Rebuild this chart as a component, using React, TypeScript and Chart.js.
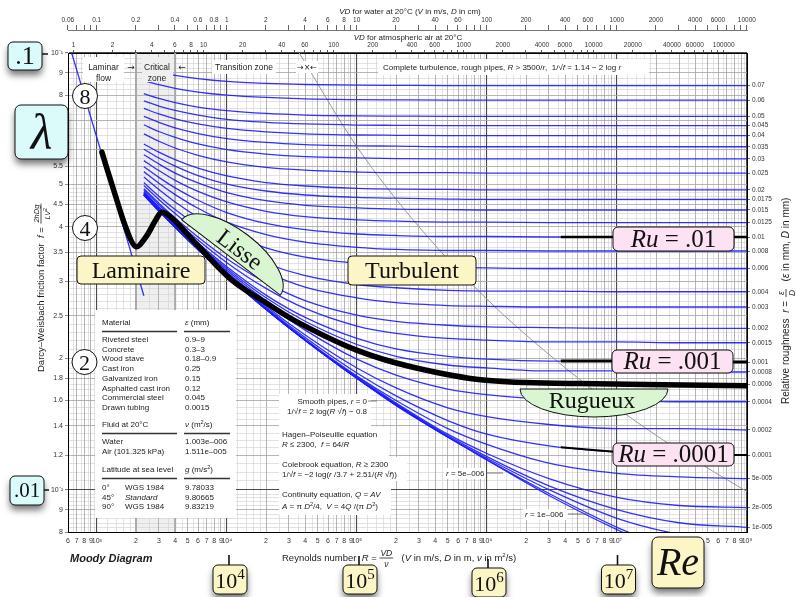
import React, { useEffect, useRef } from 'react';
import { Chart, registerables } from 'chart.js';

Chart.register(...registerables);

// ---------------- DATA ----------------
const RE_MIN = 600;
const RE_MAX = 1e8;
const F_MIN = 0.008;
const F_MAX = 0.1;

// Reynolds numbers at which the roughness curves were read
const RE = [2300, 3000, 4000, 6000, 1e4, 2e4, 4e4, 1e5, 2e5, 5e5, 1e6, 3e6, 1e7, 3e7, 1e8];

// friction factor per relative roughness
const F_070 = [0.0921, 0.0903, 0.0889, 0.0874, 0.0861, 0.0852, 0.0847, 0.0844, 0.0843, 0.0842, 0.0842, 0.0842, 0.0842, 0.0842, 0.0842];
const F_060 = [0.0864, 0.0846, 0.0830, 0.0814, 0.0801, 0.0791, 0.0785, 0.0782, 0.0781, 0.0780, 0.0780, 0.0780, 0.0780, 0.0780, 0.0780];
const F_050 = [0.0807, 0.0787, 0.0770, 0.0752, 0.0738, 0.0727, 0.0721, 0.0718, 0.0717, 0.0716, 0.0716, 0.0716, 0.0716, 0.0716, 0.0716];
const F_045 = [0.0777, 0.0756, 0.0739, 0.0721, 0.0705, 0.0694, 0.0688, 0.0684, 0.0683, 0.0682, 0.0682, 0.0682, 0.0682, 0.0682, 0.0682];
const F_040 = [0.0747, 0.0725, 0.0707, 0.0688, 0.0672, 0.0660, 0.0653, 0.0649, 0.0648, 0.0647, 0.0647, 0.0647, 0.0647, 0.0647, 0.0647];
const F_035 = [0.0716, 0.0694, 0.0674, 0.0654, 0.0637, 0.0624, 0.0617, 0.0613, 0.0612, 0.0610, 0.0610, 0.0610, 0.0610, 0.0610, 0.0610];
const F_030 = [0.0685, 0.0661, 0.0641, 0.0619, 0.0601, 0.0587, 0.0579, 0.0575, 0.0573, 0.0572, 0.0572, 0.0572, 0.0572, 0.0572, 0.0572];
const F_025 = [0.0653, 0.0628, 0.0606, 0.0583, 0.0563, 0.0547, 0.0539, 0.0534, 0.0532, 0.0532, 0.0531, 0.0531, 0.0531, 0.0531, 0.0531];
const F_020 = [0.0619, 0.0593, 0.0570, 0.0545, 0.0523, 0.0505, 0.0496, 0.0490, 0.0488, 0.0487, 0.0486, 0.0486, 0.0486, 0.0486, 0.0486];
const F_0175 = [0.0602, 0.0575, 0.0551, 0.0524, 0.0501, 0.0483, 0.0473, 0.0467, 0.0465, 0.0463, 0.0462, 0.0462, 0.0462, 0.0462, 0.0462];
const F_015 = [0.0585, 0.0557, 0.0531, 0.0504, 0.0479, 0.0459, 0.0448, 0.0442, 0.0439, 0.0438, 0.0437, 0.0437, 0.0437, 0.0437, 0.0437];
const F_0125 = [0.0567, 0.0538, 0.0511, 0.0482, 0.0456, 0.0434, 0.0422, 0.0415, 0.0412, 0.0410, 0.0410, 0.0409, 0.0409, 0.0409, 0.0409];
const F_010 = [0.0549, 0.0519, 0.0491, 0.0460, 0.0431, 0.0407, 0.0394, 0.0385, 0.0382, 0.0380, 0.0380, 0.0379, 0.0379, 0.0379, 0.0379];
const F_008 = [0.0535, 0.0503, 0.0474, 0.0441, 0.0410, 0.0384, 0.0369, 0.0359, 0.0355, 0.0353, 0.0353, 0.0352, 0.0352, 0.0352, 0.0352];
const F_006 = [0.0520, 0.0487, 0.0456, 0.0421, 0.0388, 0.0358, 0.0341, 0.0330, 0.0325, 0.0323, 0.0322, 0.0321, 0.0321, 0.0321, 0.0321];
const F_004 = [0.0505, 0.0470, 0.0438, 0.0401, 0.0364, 0.0330, 0.0309, 0.0295, 0.0290, 0.0286, 0.0285, 0.0285, 0.0284, 0.0284, 0.0284];
const F_003 = [0.0497, 0.0462, 0.0429, 0.0390, 0.0351, 0.0315, 0.0291, 0.0275, 0.0268, 0.0264, 0.0263, 0.0262, 0.0262, 0.0262, 0.0262];
const F_002 = [0.0489, 0.0453, 0.0419, 0.0379, 0.0338, 0.0298, 0.0271, 0.0251, 0.0243, 0.0238, 0.0236, 0.0235, 0.0234, 0.0234, 0.0234];
const F_0015 = [0.0485, 0.0449, 0.0414, 0.0373, 0.0331, 0.0289, 0.0260, 0.0237, 0.0228, 0.0222, 0.0220, 0.0218, 0.0218, 0.0217, 0.0217];
const F_001 = [0.0481, 0.0444, 0.0409, 0.0367, 0.0324, 0.0279, 0.0248, 0.0222, 0.0210, 0.0202, 0.0199, 0.0197, 0.0197, 0.0196, 0.0196];
const F_0008 = [0.0479, 0.0443, 0.0407, 0.0365, 0.0321, 0.0275, 0.0243, 0.0215, 0.0202, 0.0193, 0.0190, 0.0187, 0.0187, 0.0186, 0.0186];
const F_0006 = [0.0478, 0.0441, 0.0405, 0.0362, 0.0318, 0.0271, 0.0238, 0.0207, 0.0193, 0.0183, 0.0178, 0.0176, 0.0175, 0.0174, 0.0174];
const F_0004 = [0.0476, 0.0439, 0.0403, 0.0360, 0.0315, 0.0267, 0.0232, 0.0199, 0.0183, 0.0170, 0.0165, 0.0161, 0.0160, 0.0159, 0.0159];
const F_0002 = [0.0475, 0.0438, 0.0401, 0.0358, 0.0312, 0.0263, 0.0226, 0.0190, 0.0171, 0.0154, 0.0147, 0.0141, 0.0138, 0.0138, 0.0137];
const F_0001 = [0.0474, 0.0437, 0.0400, 0.0356, 0.0310, 0.0261, 0.0223, 0.0185, 0.0164, 0.0144, 0.0134, 0.0126, 0.0122, 0.0120, 0.0120];
const F_5E5 = [0.0473, 0.0436, 0.0399, 0.0356, 0.0310, 0.0260, 0.0221, 0.0182, 0.0160, 0.0138, 0.0127, 0.0115, 0.0109, 0.0107, 0.0106];
const F_2E5 = [0.0473, 0.0435, 0.0399, 0.0355, 0.0309, 0.0259, 0.0220, 0.0181, 0.0158, 0.0134, 0.0121, 0.0106, 0.0096, 0.0092, 0.0091];
const F_1E5 = [0.0473, 0.0435, 0.0399, 0.0355, 0.0309, 0.0259, 0.0220, 0.0180, 0.0157, 0.0133, 0.0119, 0.0102, 0.0090, 0.0084, 0.0082];
const F_5E6 = [0.0473, 0.0435, 0.0399, 0.0355, 0.0309, 0.0259, 0.0220, 0.0180, 0.0157, 0.0132, 0.0118, 0.0100, 0.0086, 0.0079, 0.0075];
const F_1E6 = [0.0473, 0.0435, 0.0399, 0.0355, 0.0309, 0.0259, 0.0220, 0.0180, 0.0156, 0.0132, 0.0117, 0.0098, 0.0082, 0.0072, 0.0063];
const F_SMOOTH = [0.0473, 0.0435, 0.0399, 0.0355, 0.0309, 0.0259, 0.0220, 0.0180, 0.0156, 0.0132, 0.0117, 0.0097, 0.0081, 0.0070, 0.0059];

const ROUGHNESS_LABELS = ['0.07', '0.06', '0.05', '0.045', '0.04', '0.035', '0.03', '0.025', '0.02', '0.0175', '0.015', '0.0125', '0.01', '0.008', '0.006', '0.004', '0.003', '0.002', '0.0015', '0.001', '0.0008', '0.0006', '0.0004', '0.0002', '0.0001', '5e-005', '2e-005', '1e-005'];
const ROUGH_SERIES = [F_070, F_060, F_050, F_045, F_040, F_035, F_030, F_025, F_020, F_0175, F_015, F_0125, F_010, F_008, F_006, F_004, F_003, F_002, F_0015, F_001, F_0008, F_0006, F_0004, F_0002, F_0001, F_5E5, F_2E5, F_1E5];
const EXTRA_SERIES = [F_5E6, F_1E6, F_SMOOTH];

// laminar flow line
const LAMINAR_RE = [600, 2300];
const LAMINAR_F = [0.1067, 0.0278];

// boundary of complete turbulence (grey diagonal)
const BOUNDARY_RE = [3.6e4, 1e5, 3e5, 1e6, 3e6, 1e7, 3e7, 1e8];
const BOUNDARY_F = [0.1, 0.061, 0.04, 0.0273, 0.0204, 0.0154, 0.0123, 0.0099];

// thick hand-drawn black path
const PATH_RE = [1093, 1400, 1701, 1995, 2382, 2843, 3162, 3776, 6000, 10926, 19953, 35800, 98240, 265000, 982000, 5.1e6, 1e8];
const PATH_F = [0.0593, 0.0468, 0.0393, 0.036, 0.0379, 0.0415, 0.0432, 0.0419, 0.0362, 0.0302, 0.0268, 0.0241, 0.0209, 0.0191, 0.0178, 0.0175, 0.0173];

// highlighted "Ru" segments
const RU_RE = [3.7e6, 1e7, 3e7, 1e8];
const RU_01_F = [0.0379, 0.0379, 0.0379, 0.0379];
const RU_001_F = [0.0197, 0.0197, 0.0196, 0.0196];
const RU_0001_F = [0.0125, 0.0122, 0.012, 0.012];

const CRITICAL_ZONE = [2000, 4000];

const Y_TICKS = [0.1, 0.09, 0.08, 0.07, 0.06, 0.055, 0.05, 0.045, 0.04, 0.035, 0.03, 0.025, 0.02, 0.018, 0.016, 0.014, 0.012, 0.01, 0.009, 0.008];

// secondary top axes: VD per unit Reynolds number
const WATER_FACTOR = 1.003e-4;
const AIR_FACTOR = 1.511e-3;
const WATER_LABELS = [0.06, 0.1, 0.2, 0.4, 0.6, 0.8, 1, 2, 4, 6, 8, 10, 20, 40, 60, 100, 200, 400, 600, 1000, 2000, 4000, 6000, 10000];
const AIR_LABELS = [1, 2, 4, 6, 8, 10, 20, 40, 60, 100, 200, 400, 600, 1000, 2000, 4000, 6000, 10000, 20000, 40000, 60000, 100000];

const X_MINOR_MANTISSA = [1.2, 1.4, 1.6, 1.8, 2.5, 3.5, 4.5, 5.5, 6.5, 7.5, 8.5, 9.5];

// ---------------- HELPERS ----------------
const SANS = '"Liberation Sans", Arial, Helvetica, sans-serif';
const SERIF = '"Liberation Serif", "Times New Roman", serif';
const fs = (size: number, style = '') => `${style} ${size}px ${SANS}`.trim();
const fserif = (size: number, style = '') => `${style} ${size}px ${SERIF}`.trim();

const CYAN = '#dbfafa';
const YELLOW = '#fcf6c6';
const PINK = '#fde2f3';
const GREEN = '#d9f5d2';
const BLUE = 'rgba(28,28,255,0.9)';
const TXT = '#1c1c1c';

const SUP: Record<string, string> = { '0': '⁰', '1': '¹', '2': '²', '3': '³', '4': '⁴', '5': '⁵', '6': '⁶', '7': '⁷', '8': '⁸', '9': '⁹', '-': '⁻' };
const sup = (s: string) => s.split('').map((c) => SUP[c] ?? c).join('');

function mantissaLabel(v: number): string {
  const e = Math.floor(Math.log10(v) + 1e-9);
  const m = v / Math.pow(10, e);
  if (Math.abs(m - 1) < 1e-6) return '10' + sup(String(e));
  return String(Math.round(m * 10) / 10);
}
function isDecade(v: number) {
  const l = Math.log10(v);
  return Math.abs(l - Math.round(l)) < 1e-9;
}
function logTicks(min: number, max: number): number[] {
  const out: number[] = [];
  for (let e = Math.floor(Math.log10(min)) - 1; e <= Math.ceil(Math.log10(max)); e++) {
    for (let m = 1; m <= 9; m++) {
      const v = Number((m * Math.pow(10, e)).toPrecision(10));
      if (v >= min * (1 - 1e-9) && v <= max * (1 + 1e-9)) out.push(v);
    }
  }
  return out;
}
function fmtNum(v: number) {
  return String(Number(v.toPrecision(6)));
}
const near = (a: number, b: number) => Math.abs(a - b) / b < 1e-6;

const Y_MINOR: number[] = (() => {
  const out: number[] = [];
  for (let k = 82; k <= 98; k += 2) if (k !== 90) out.push(k / 10000);
  for (let k = 105; k <= 195; k += 5) if (k % 20 !== 0) out.push(k / 10000);
  for (let k = 21; k <= 49; k++) if (k % 5 !== 0) out.push(k / 1000);
  for (let k = 50; k <= 100; k += 2.5) if (![50, 55, 60, 70, 80, 90, 100].includes(k)) out.push(k / 1000);
  return out;
})();

type Run = { t: string; f: string; dy?: number };
function runsWidth(ctx: CanvasRenderingContext2D, runs: Run[]) {
  let w = 0;
  for (const r of runs) {
    ctx.font = r.f;
    w += ctx.measureText(r.t).width;
  }
  return w;
}
function drawRuns(ctx: CanvasRenderingContext2D, x: number, y: number, runs: Run[], align: 'left' | 'center' | 'right' = 'left', color = TXT) {
  const w = runsWidth(ctx, runs);
  let cx = align === 'center' ? x - w / 2 : align === 'right' ? x - w : x;
  ctx.fillStyle = color;
  ctx.textAlign = 'left';
  ctx.textBaseline = 'alphabetic';
  for (const r of runs) {
    ctx.font = r.f;
    ctx.fillText(r.t, cx, y + (r.dy || 0));
    cx += ctx.measureText(r.t).width;
  }
  return w;
}
function drawFrac(ctx: CanvasRenderingContext2D, x: number, y: number, num: Run[], den: Run[], color = TXT) {
  const w = Math.max(runsWidth(ctx, num), runsWidth(ctx, den)) + 2;
  drawRuns(ctx, x + w / 2, y - 5, num, 'center', color);
  drawRuns(ctx, x + w / 2, y + 5.5, den, 'center', color);
  ctx.strokeStyle = color;
  ctx.lineWidth = 0.8;
  ctx.beginPath();
  ctx.moveTo(x, y - 3);
  ctx.lineTo(x + w, y - 3);
  ctx.stroke();
  return w;
}
function rrPath(ctx: CanvasRenderingContext2D, x: number, y: number, w: number, h: number, r: number) {
  ctx.beginPath();
  ctx.moveTo(x + r, y);
  ctx.arcTo(x + w, y, x + w, y + h, r);
  ctx.arcTo(x + w, y + h, x, y + h, r);
  ctx.arcTo(x, y + h, x, y, r);
  ctx.arcTo(x, y, x + w, y, r);
  ctx.closePath();
}
function box(ctx: CanvasRenderingContext2D, x: number, y: number, w: number, h: number, fill: string, r = 4, shadow = false) {
  ctx.save();
  rrPath(ctx, x, y, w, h, r);
  if (shadow) {
    ctx.shadowColor = 'rgba(0,0,0,0.55)';
    ctx.shadowBlur = 7;
    ctx.shadowOffsetY = 5;
  }
  ctx.fillStyle = fill;
  ctx.fill();
  ctx.restore();
  ctx.save();
  rrPath(ctx, x, y, w, h, r);
  ctx.strokeStyle = '#111';
  ctx.lineWidth = 1;
  ctx.stroke();
  ctx.restore();
}
function rect(ctx: CanvasRenderingContext2D, x: number, y: number, w: number, h: number, fill = '#fff') {
  ctx.fillStyle = fill;
  ctx.fillRect(x, y, w, h);
}
function line(ctx: CanvasRenderingContext2D, x1: number, y1: number, x2: number, y2: number, w = 1, c = '#111') {
  ctx.strokeStyle = c;
  ctx.lineWidth = w;
  ctx.beginPath();
  ctx.moveTo(x1, y1);
  ctx.lineTo(x2, y2);
  ctx.stroke();
}
function circleLabel(ctx: CanvasRenderingContext2D, cx: number, cy: number, r: number, t: string) {
  ctx.beginPath();
  ctx.arc(cx, cy, r, 0, Math.PI * 2);
  ctx.fillStyle = '#fff';
  ctx.fill();
  ctx.strokeStyle = '#111';
  ctx.lineWidth = 1;
  ctx.stroke();
  drawRuns(ctx, cx, cy + 7.5, [{ t, f: fserif(22) }], 'center', '#111');
}

// ---------------- PLUGINS ----------------
const backgroundPlugin = {
  id: 'moodyBackground',
  beforeDraw(chart: any) {
    const { ctx, chartArea: a } = chart;
    const X = chart.scales.x;
    const Y = chart.scales.y;
    ctx.save();
    rect(ctx, 0, 0, chart.width, chart.height, '#fff');
    const c1 = X.getPixelForValue(CRITICAL_ZONE[0]);
    const c2 = X.getPixelForValue(CRITICAL_ZONE[1]);
    rect(ctx, c1, a.top, c2 - c1, a.bottom - a.top, '#efefef');
    ctx.strokeStyle = '#d6d6d6';
    ctx.lineWidth = 0.7;
    ctx.beginPath();
    for (let e = 2; e < 8; e++) {
      for (const m of X_MINOR_MANTISSA) {
        const v = m * Math.pow(10, e);
        if (v < RE_MIN || v > RE_MAX) continue;
        const px = Math.round(X.getPixelForValue(v)) + 0.5;
        ctx.moveTo(px, a.top);
        ctx.lineTo(px, a.bottom);
      }
    }
    for (const v of Y_MINOR) {
      const py = Math.round(Y.getPixelForValue(v)) + 0.5;
      ctx.moveTo(a.left, py);
      ctx.lineTo(a.right, py);
    }
    ctx.stroke();
    ctx.restore();
  },
  beforeDatasetsDraw(chart: any) {
    const { ctx, chartArea: a } = chart;
    const X = chart.scales.x;
    ctx.save();
    for (const v of CRITICAL_ZONE) {
      const px = X.getPixelForValue(v);
      line(ctx, px, a.top, px, a.bottom, 2, '#a9a9a9');
    }
    ctx.restore();
  },
};

const annotationPlugin = {
  id: 'moodyAnnotations',
  afterDraw(chart: any) {
    const ctx: CanvasRenderingContext2D = chart.ctx;
    ctx.save();
    const F8 = fs(8);
    const I8 = fs(8, 'italic');

    // --- zone header labels ---
    rect(ctx, 83, 57, 41, 25);
    drawRuns(ctx, 103.5, 69.5, [{ t: 'Laminar', f: fs(8.5) }], 'center');
    drawRuns(ctx, 103.5, 80.5, [{ t: 'flow', f: fs(8.5) }], 'center');
    rect(ctx, 142, 57, 31, 25, '#efefef');
    drawRuns(ctx, 157, 69.5, [{ t: 'Critical', f: fs(8.5) }], 'center');
    drawRuns(ctx, 157, 80.5, [{ t: 'zone', f: fs(8.5) }], 'center');
    drawRuns(ctx, 131, 70, [{ t: '→', f: `9px "DejaVu Sans", sans-serif` }], 'center');
    drawRuns(ctx, 182, 70, [{ t: '←', f: `9px "DejaVu Sans", sans-serif` }], 'center');
    rect(ctx, 212, 60, 64, 14);
    drawRuns(ctx, 244, 70, [{ t: 'Transition zone', f: fs(8.5) }], 'center');
    rect(ctx, 296, 61, 22, 12);
    drawRuns(ctx, 307, 70, [{ t: '→×←', f: `8px "DejaVu Sans", sans-serif` }], 'center');
    rect(ctx, 378, 59, 271, 16);
    drawRuns(ctx, 383, 70, [
      { t: 'Complete turbulence, rough pipes, ', f: F8 },
      { t: 'R', f: I8 },
      { t: ' > 3500/', f: F8 },
      { t: 'r', f: I8 },
      { t: ',  1/√', f: F8 },
      { t: 'f', f: I8 },
      { t: ' = 1.14 − 2 log ', f: F8 },
      { t: 'r', f: I8 },
    ]);

    // --- material table ---
    rect(ctx, 95, 310, 141, 208);
    const c1 = 102;
    const c2 = 185;
    const rowsA: [string, string][] = [
      ['Riveted steel', '0.9–9'],
      ['Concrete', '0.3–3'],
      ['Wood stave', '0.18–0.9'],
      ['Cast iron', '0.25'],
      ['Galvanized iron', '0.15'],
      ['Asphalted cast iron', '0.12'],
      ['Commercial steel', '0.045'],
      ['Drawn tubing', '0.0015'],
    ];
    drawRuns(ctx, c1, 325, [{ t: 'Material', f: F8 }]);
    drawRuns(ctx, c2, 325, [{ t: 'ε', f: I8 }, { t: ' (mm)', f: F8 }]);
    line(ctx, c1, 331.5, 177, 331.5, 1.3, '#333');
    line(ctx, c2 - 1, 331.5, 230, 331.5, 1.3, '#333');
    rowsA.forEach((r, i) => {
      const y = 342 + i * 9.7;
      drawRuns(ctx, c1, y, [{ t: r[0], f: F8 }]);
      drawRuns(ctx, c2, y, [{ t: r[1], f: F8 }]);
    });
    drawRuns(ctx, c1, 427, [{ t: 'Fluid at 20°C', f: F8 }]);
    drawRuns(ctx, c2, 427, [{ t: 'ν', f: I8 }, { t: ' (m', f: F8 }, { t: '2', f: fs(5.5), dy: -3 }, { t: '/s)', f: F8 }]);
    line(ctx, c1, 433.5, 177, 433.5, 1.3, '#333');
    line(ctx, c2 - 1, 433.5, 230, 433.5, 1.3, '#333');
    drawRuns(ctx, c1, 444, [{ t: 'Water', f: F8 }]);
    drawRuns(ctx, c2, 444, [{ t: '1.003e–006', f: F8 }]);
    drawRuns(ctx, c1, 454, [{ t: 'Air (101.325 kPa)', f: F8 }]);
    drawRuns(ctx, c2, 454, [{ t: '1.511e–005', f: F8 }]);
    drawRuns(ctx, c1, 472, [{ t: 'Latitude at sea level', f: F8 }]);
    drawRuns(ctx, c2, 472, [{ t: 'g', f: I8 }, { t: ' (m/s', f: F8 }, { t: '2', f: fs(5.5), dy: -3 }, { t: ')', f: F8 }]);
    line(ctx, c1, 478.5, 177, 478.5, 1.3, '#333');
    line(ctx, c2 - 1, 478.5, 230, 478.5, 1.3, '#333');
    const rowsG: [string, string, string, boolean][] = [
      ['0°', 'WGS 1984', '9.78033', false],
      ['45°', 'Standard', '9.80665', true],
      ['90°', 'WGS 1984', '9.83219', false],
    ];
    rowsG.forEach((r, i) => {
      const y = 490 + i * 9.7;
      drawRuns(ctx, c1, y, [{ t: r[0], f: F8 }]);
      drawRuns(ctx, 125, y, [{ t: r[1], f: r[3] ? I8 : F8 }]);
      drawRuns(ctx, c2, y, [{ t: r[2], f: F8 }]);
    });

    // --- equations ---
    rect(ctx, 279, 394, 92, 33);
    rect(ctx, 279, 427, 110, 30);
    rect(ctx, 279, 457, 128, 24);
    rect(ctx, 279, 481, 112, 34);
    drawRuns(ctx, 367, 404, [{ t: 'Smooth pipes, ', f: F8 }, { t: 'r', f: I8 }, { t: ' = 0', f: F8 }], 'right');
    drawRuns(ctx, 367, 414, [{ t: '1/√', f: F8 }, { t: 'f', f: I8 }, { t: ' = 2 log(', f: F8 }, { t: 'R', f: I8 }, { t: ' √', f: F8 }, { t: 'f', f: I8 }, { t: ') − 0.8', f: F8 }], 'right');
    line(ctx, 368, 401, 377, 401, 0.8, '#666');
    drawRuns(ctx, 282, 437, [{ t: 'Hagen–Poiseuille equation', f: F8 }]);
    drawRuns(ctx, 282, 447, [{ t: 'R', f: I8 }, { t: ' ≤ 2300,  ', f: F8 }, { t: 'f', f: I8 }, { t: ' = 64/', f: F8 }, { t: 'R', f: I8 }]);
    drawRuns(ctx, 282, 467, [{ t: 'Colebrook equation, ', f: F8 }, { t: 'R', f: I8 }, { t: ' ≥ 2300', f: F8 }]);
    drawRuns(ctx, 282, 477, [{ t: '1/√', f: F8 }, { t: 'f', f: I8 }, { t: ' = −2 log(', f: F8 }, { t: 'r', f: I8 }, { t: ' /3.7 + 2.51/(', f: F8 }, { t: 'R', f: I8 }, { t: ' √', f: F8 }, { t: 'f', f: I8 }, { t: '))', f: F8 }]);
    drawRuns(ctx, 282, 497, [{ t: 'Continuity equation, ', f: F8 }, { t: 'Q', f: I8 }, { t: ' = ', f: F8 }, { t: 'AV', f: I8 }]);
    drawRuns(ctx, 282, 509, [{ t: 'A', f: I8 }, { t: ' = π ', f: F8 }, { t: 'D', f: I8 }, { t: '2', f: fs(5.5), dy: -3 }, { t: '/4,  ', f: F8 }, { t: 'V', f: I8 }, { t: ' = 4', f: F8 }, { t: 'Q', f: I8 }, { t: ' /(π ', f: F8 }, { t: 'D', f: I8 }, { t: '2', f: fs(5.5), dy: -3 }, { t: ')', f: F8 }]);

    // --- curve labels ---
    rect(ctx, 444, 468, 42, 11);
    drawRuns(ctx, 446, 476, [{ t: 'r', f: I8 }, { t: ' = 5e–006', f: F8 }]);
    line(ctx, 487, 473, 503, 473, 0.8, '#555');
    rect(ctx, 523, 509, 44, 11);
    drawRuns(ctx, 525, 517, [{ t: 'r', f: I8 }, { t: ' = 1e–006', f: F8 }]);
    line(ctx, 568, 514, 588, 514, 0.8, '#555');

    // --- titles ---
    drawRuns(ctx, 70, 562, [{ t: 'Moody Diagram', f: fs(11, 'italic bold') }]);
    // bottom axis title
    const FB = fs(9.5);
    const IB = fs(9.5, 'italic');
    let wx = drawRuns(ctx, 282, 561, [{ t: 'Reynolds number  ', f: FB }, { t: 'R', f: IB }, { t: ' = ', f: FB }]);
    wx += drawFrac(ctx, 282 + wx, 561, [{ t: 'VD', f: fs(8.5, 'italic') }], [{ t: 'ν', f: fs(8.5, 'italic') }]);
    drawRuns(ctx, 282 + wx + 3, 561, [
      { t: '  (', f: FB },
      { t: 'V', f: IB },
      { t: ' in m/s, ', f: FB },
      { t: 'D', f: IB },
      { t: ' in m, ', f: FB },
      { t: 'ν', f: IB },
      { t: ' in m', f: FB },
      { t: '2', f: fs(6), dy: -4 },
      { t: '/s)', f: FB },
    ]);
    // top titles
    drawRuns(ctx, 410, 14, [
      { t: 'VD', f: I8 },
      { t: ' for water at 20°C (', f: F8 },
      { t: 'V', f: I8 },
      { t: ' in m/s, ', f: F8 },
      { t: 'D', f: I8 },
      { t: ' in cm)', f: F8 },
    ], 'center');
    drawRuns(ctx, 408, 40, [{ t: 'VD', f: I8 }, { t: ' for atmospheric air at 20°C', f: F8 }], 'center');
    // left title
    ctx.save();
    ctx.translate(44, 372);
    ctx.rotate(-Math.PI / 2);
    const FL = fs(9.5);
    let wl = drawRuns(ctx, 0, 0, [{ t: 'Darcy–Weisbach friction factor  ', f: FL }, { t: 'f', f: fs(9.5, 'italic') }, { t: ' = ', f: FL }]);
    drawFrac(ctx, wl + 1, 0, [{ t: '2hDg', f: fs(7.5, 'italic') }], [{ t: 'LV', f: fs(7.5, 'italic') }, { t: '2', f: fs(5), dy: -3 }]);
    ctx.restore();
    // right title
    ctx.save();
    ctx.translate(789, 404);
    ctx.rotate(-Math.PI / 2);
    const FR = fs(10);
    const IR = fs(10, 'italic');
    let wr = drawRuns(ctx, 0, 0, [{ t: 'Relative roughness  ', f: FR }, { t: 'r', f: IR }, { t: ' = ', f: FR }]);
    wr += drawFrac(ctx, wr + 1, 0, [{ t: 'ε', f: fs(8.5, 'italic') }], [{ t: 'D', f: fs(8.5, 'italic') }]);
    drawRuns(ctx, wr + 3, 0, [{ t: '  (', f: FR }, { t: 'ε', f: IR }, { t: ' in mm, ', f: FR }, { t: 'D', f: IR }, { t: ' in mm)', f: FR }]);
    ctx.restore();

    // --- coloured annotations ---
    box(ctx, 8, 42, 34, 28, CYAN, 5, true);
    drawRuns(ctx, 25, 64, [{ t: '.1', f: fserif(26) }], 'center', '#111');
    line(ctx, 42, 54, 48, 54, 1.5);
    box(ctx, 15, 105, 53, 54, CYAN, 6, true);
    drawRuns(ctx, 41.5, 149, [{ t: 'λ', f: fserif(50, 'italic') }], 'center', '#111');
    box(ctx, 10, 476, 34, 29, CYAN, 5, true);
    drawRuns(ctx, 27, 497, [{ t: '.01', f: fserif(21) }], 'center', '#111');
    line(ctx, 44, 490, 49, 490, 1.5);

    circleLabel(ctx, 85, 96, 12.5, '8');
    circleLabel(ctx, 85, 228, 12.5, '4');
    circleLabel(ctx, 84.5, 362, 12.5, '2');

    box(ctx, 77, 256, 128, 28, YELLOW, 4);
    drawRuns(ctx, 141, 278, [{ t: 'Laminaire', f: fserif(24) }], 'center', '#111');
    box(ctx, 348, 256, 128, 29, YELLOW, 4);
    drawRuns(ctx, 412, 278, [{ t: 'Turbulent', f: fserif(24) }], 'center', '#111');

    // Lisse (half ellipse along the smooth-pipe branch)
    ctx.save();
    ctx.translate(231, 257.5);
    ctx.rotate((37.4 * Math.PI) / 180);
    ctx.beginPath();
    ctx.ellipse(0, 0, 62, 28, 0, Math.PI, Math.PI * 2);
    ctx.closePath();
    ctx.fillStyle = GREEN;
    ctx.fill();
    ctx.strokeStyle = '#111';
    ctx.lineWidth = 1;
    ctx.stroke();
    drawRuns(ctx, 2, -4, [{ t: 'Lisse', f: fserif(24) }], 'center', '#111');
    ctx.restore();

    // Rugueux (half ellipse under the rough branch)
    ctx.save();
    ctx.translate(594, 389);
    ctx.beginPath();
    ctx.ellipse(0, 0, 74, 28, 0, 0, Math.PI);
    ctx.closePath();
    ctx.fillStyle = GREEN;
    ctx.fill();
    ctx.strokeStyle = '#111';
    ctx.lineWidth = 1;
    ctx.stroke();
    drawRuns(ctx, -2, 19, [{ t: 'Rugueux', f: fserif(24) }], 'center', '#111');
    ctx.restore();

    const ru = (x: number, y: number, w: number, h: number, val: string) => {
      box(ctx, x, y, w, h, PINK, 5);
      drawRuns(ctx, x + w / 2, y + h - 4, [{ t: 'Ru', f: fserif(25, 'italic') }, { t: ' = ' + val, f: fserif(25) }], 'center', '#111');
    };
    ru(613, 227, 121, 24, '.01');
    ru(612, 350, 121, 23, '.001');
    ru(613, 443, 121, 23, '.0001');

    const decadeBox = (cx: number, top: number, lineTop: number, exp: string) => {
      line(ctx, cx, lineTop, cx, top, 1.6);
      box(ctx, cx - 16, top, 34, 29, YELLOW, 5, true);
      drawRuns(ctx, cx + 1, top + 23, [{ t: '10', f: fserif(22) }, { t: exp, f: fserif(15), dy: -9 }], 'center', '#111');
    };
    decadeBox(229, 565, 555, '4');
    decadeBox(359, 565, 556, '5');
    decadeBox(488, 568, 559, '6');
    decadeBox(617.5, 565, 555, '7');
    box(ctx, 652, 537, 52, 51, YELLOW, 6, true);
    drawRuns(ctx, 678, 575, [{ t: 'Re', f: fserif(40, 'italic') }], 'center', '#111');

    ctx.restore();
  },
};

// ---------------- COMPONENT ----------------
const toPts = (xs: number[], ys: number[]) => xs.map((x, i) => ({ x, y: ys[i] }));

export default function App() {
  const ref = useRef<HTMLCanvasElement>(null);

  useEffect(() => {
    if (!ref.current) return;
    const base = { showLine: true, pointRadius: 0, pointHoverRadius: 0, fill: false };
    const datasets: any[] = [
      {
        ...base,
        label: 'path',
        data: toPts(PATH_RE, PATH_F),
        borderColor: '#000',
        borderWidth: 5.5,
        tension: 0.35,
        borderCapStyle: 'round',
        borderJoinStyle: 'round',
        order: 0,
      },
      { ...base, label: 'Ru .01', data: toPts(RU_RE, RU_01_F), borderColor: '#000', borderWidth: 2.5, order: 1 },
      { ...base, label: 'Ru .001', data: toPts(RU_RE, RU_001_F), borderColor: '#000', borderWidth: 3, order: 1 },
      { ...base, label: 'Ru .0001', data: toPts(RU_RE, RU_0001_F), borderColor: '#000', borderWidth: 2, order: 1 },
      ...ROUGH_SERIES.map((fsr, i) => ({
        ...base,
        label: 'r = ' + ROUGHNESS_LABELS[i],
        data: toPts(RE, fsr),
        borderColor: BLUE,
        borderWidth: 1.3,
        cubicInterpolationMode: 'monotone',
        order: 5,
      })),
      ...EXTRA_SERIES.map((fsr, i) => ({
        ...base,
        label: ['r = 5e-6', 'r = 1e-6', 'r = 0'][i],
        data: toPts(RE, fsr),
        borderColor: BLUE,
        borderWidth: 1.3,
        cubicInterpolationMode: 'monotone',
        order: 5,
      })),
      { ...base, label: 'laminar', data: toPts(LAMINAR_RE, LAMINAR_F), borderColor: BLUE, borderWidth: 1.3, order: 5 },
      { ...base, label: 'boundary', data: toPts(BOUNDARY_RE, BOUNDARY_F), borderColor: '#9a9a9a', borderWidth: 1, cubicInterpolationMode: 'monotone', order: 6 },
    ];

    const tickFont = { family: SANS, size: 7 };
    const rightTickValues = ROUGH_SERIES.map((s) => s[s.length - 1]);
    const waterMin = RE_MIN * WATER_FACTOR;
    const waterMax = RE_MAX * WATER_FACTOR;
    const airMin = RE_MIN * AIR_FACTOR;
    const airMax = RE_MAX * AIR_FACTOR;

    const chart = new Chart(ref.current, {
      type: 'scatter',
      data: { datasets },
      options: {
        animation: false,
        responsive: false,
        maintainAspectRatio: false,
        devicePixelRatio: 1,
        events: [],
        layout: { padding: 0 },
        plugins: { legend: { display: false }, tooltip: { enabled: false }, title: { display: false } },
        scales: {
          x: {
            type: 'logarithmic',
            position: 'bottom',
            min: RE_MIN,
            max: RE_MAX,
            weight: 0,
            afterFit: (s: any) => {
              s.height = 65;
            },
            afterBuildTicks: (s: any) => {
              s.ticks = logTicks(RE_MIN, RE_MAX).map((value) => ({ value }));
            },
            ticks: { autoSkip: false, maxRotation: 0, minRotation: 0, padding: 5, font: tickFont, color: '#333', callback: (v: any) => mantissaLabel(Number(v)) },
            grid: {
              drawTicks: false,
              color: (c: any) => (c.tick && isDecade(c.tick.value) ? '#4a4a4a' : '#a2a2a2'),
              lineWidth: (c: any) => (c.tick && isDecade(c.tick.value) ? 1.1 : 0.8),
            },
            border: { display: true, color: '#000', width: 1 },
          },
          xAir: {
            type: 'logarithmic',
            position: 'top',
            min: airMin,
            max: airMax,
            weight: 1,
            afterFit: (s: any) => {
              s.height = 23;
            },
            afterBuildTicks: (s: any) => {
              s.ticks = logTicks(airMin, airMax).map((value) => ({ value }));
            },
            ticks: {
              autoSkip: false,
              maxRotation: 0,
              minRotation: 0,
              padding: 1,
              font: { family: SANS, size: 6.5 },
              color: '#333',
              callback: (v: any) => (AIR_LABELS.some((l) => near(Number(v), l)) ? fmtNum(Number(v)) : ''),
            },
            grid: { drawOnChartArea: false, drawTicks: true, tickLength: 3, tickColor: '#555' },
            border: { display: true, color: '#000', width: 1 },
          },
          xWater: {
            type: 'logarithmic',
            position: 'top',
            min: waterMin,
            max: waterMax,
            weight: 2,
            afterFit: (s: any) => {
              s.height = 30;
            },
            afterBuildTicks: (s: any) => {
              const vals = logTicks(waterMin, waterMax);
              if (!vals.some((v) => near(v, WATER_LABELS[0]))) vals.unshift(WATER_LABELS[0]);
              s.ticks = vals.map((value) => ({ value }));
            },
            ticks: {
              autoSkip: false,
              maxRotation: 0,
              minRotation: 0,
              padding: 1,
              font: { family: SANS, size: 6.5 },
              color: '#333',
              callback: (v: any) => (WATER_LABELS.some((l) => near(Number(v), l)) ? fmtNum(Number(v)) : ''),
            },
            grid: { drawOnChartArea: false, drawTicks: true, tickLength: 5, tickColor: '#666' },
            border: { display: true, color: '#777', width: 1 },
          },
          y: {
            type: 'logarithmic',
            position: 'left',
            min: F_MIN,
            max: F_MAX,
            afterFit: (s: any) => {
              s.width = 68;
            },
            afterBuildTicks: (s: any) => {
              s.ticks = Y_TICKS.map((value) => ({ value }));
            },
            ticks: { autoSkip: false, padding: 2, font: tickFont, color: '#333', callback: (v: any) => mantissaLabel(Number(v)) },
            grid: {
              drawTicks: true,
              tickLength: 3,
              tickColor: '#777',
              color: (c: any) => (c.tick && isDecade(c.tick.value) ? '#4a4a4a' : '#a2a2a2'),
              lineWidth: (c: any) => (c.tick && isDecade(c.tick.value) ? 1.1 : 0.8),
            },
            border: { display: true, color: '#000', width: 1 },
          },
          yR: {
            type: 'logarithmic',
            position: 'right',
            min: F_MIN,
            max: F_MAX,
            afterFit: (s: any) => {
              s.width = 49;
            },
            afterBuildTicks: (s: any) => {
              s.ticks = rightTickValues.map((value) => ({ value }));
            },
            ticks: { autoSkip: false, padding: 2, font: { family: SANS, size: 6.5 }, color: '#333', callback: (_v: any, i: number) => ROUGHNESS_LABELS[i] },
            grid: { drawOnChartArea: false, drawTicks: true, tickLength: 3, tickColor: '#777' },
            border: { display: true, color: '#000', width: 1 },
          },
        },
      } as any,
      plugins: [backgroundPlugin, annotationPlugin],
    });
    return () => chart.destroy();
  }, []);

  return (
    <div style={{ position: 'fixed', left: 0, top: 0, width: 796, height: 597, background: '#fff', overflow: 'hidden' }}>
      <canvas ref={ref} width={796} height={597} style={{ display: 'block', width: 796, height: 597 }} />
    </div>
  );
}
